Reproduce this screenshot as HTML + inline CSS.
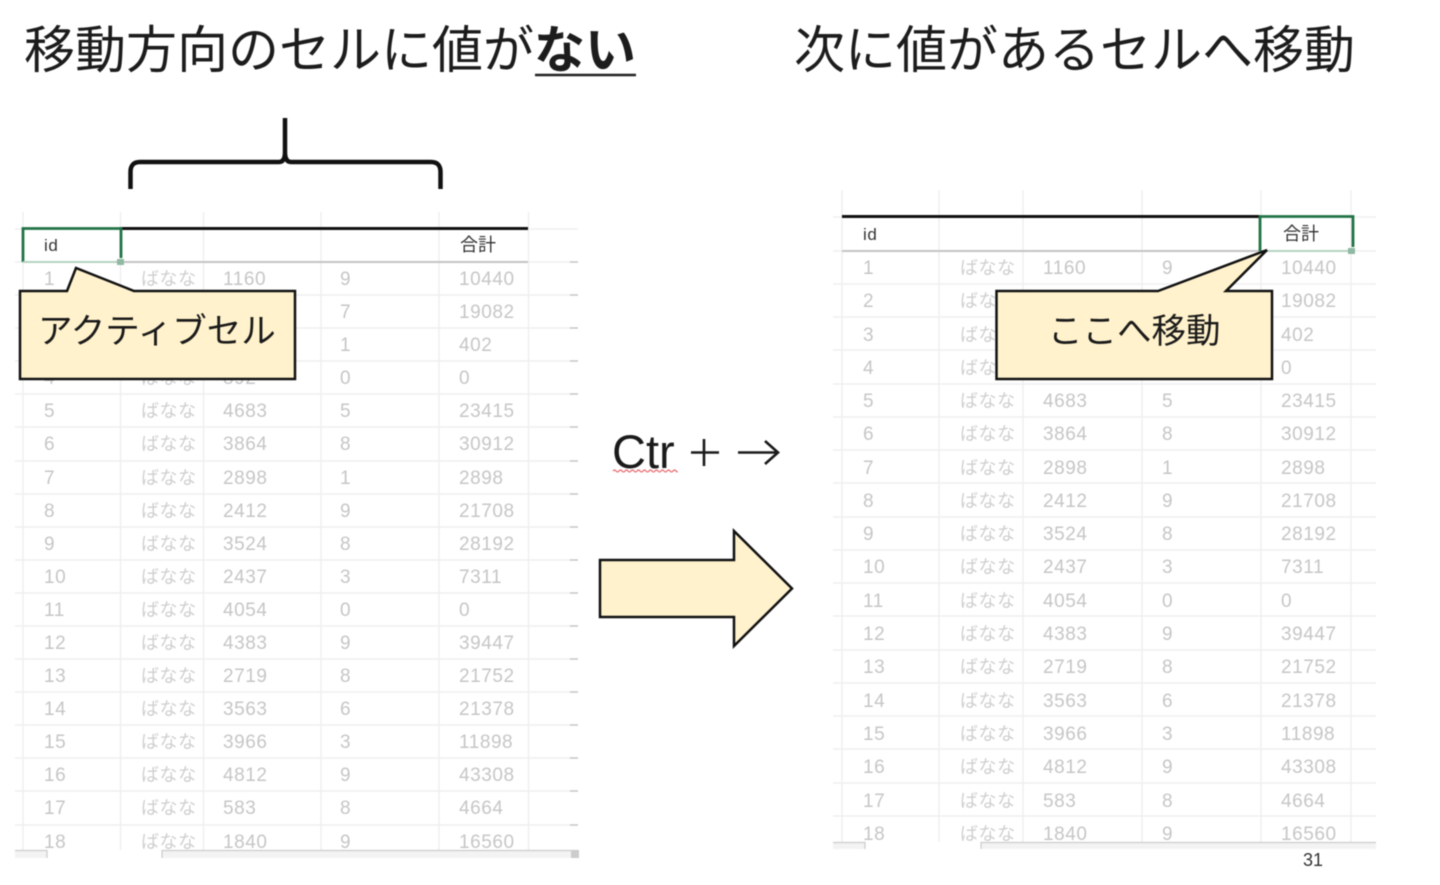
<!DOCTYPE html>
<html lang="ja"><head><meta charset="utf-8"><title>Ctrl + →</title>
<style>
html,body{margin:0;padding:0;background:#fff;width:1440px;height:885px;overflow:hidden}
svg{display:block;filter:blur(.5px)}
text{font-family:"Liberation Sans","Noto Sans CJK JP",sans-serif}
.d text{font-size:19px;fill:#c6c6c6;letter-spacing:.55px}
.d .k{font-size:18px;fill:#cfcfcf}
.t{font-size:51px;fill:#1c1c1c}
.c{font-size:34.500px;fill:#1a1a1a}
.g{stroke:#efefef;stroke-width:1.500;fill:none}
.tick{stroke:#c8c8c8;stroke-width:1.500;fill:none}
.s{fill:#fff2cc;stroke:#111;stroke-width:2.500;stroke-linejoin:miter}
</style></head><body>
<svg width="1440" height="885" viewBox="0 0 1440 885" xmlns="http://www.w3.org/2000/svg">
<text class="t" x="24" y="68">移動方向のセルに値が<tspan font-weight="bold">ない</tspan></text>
<line x1="535" y1="75" x2="636" y2="75" stroke="#222" stroke-width="2.500"/>
<text class="t" x="794" y="68">次に値があるセルへ移動</text>
<path d="M130.500 189 V172 Q130.500 162 140 162 H279 Q285 162 285 152 V118 V152 Q285 162 291 162 H431 Q440.500 162 440.500 172 V189" fill="none" stroke="#111" stroke-width="4.500"/>

<!-- left table -->
<path class="g" d="M23 212V850M120.500 212V850M203.500 212V850M321 212V850M439 212V850M528.500 212V850"/>
<path class="g" d="M15 229H578M15 262H578M15 295H578M15 328H578M15 361H578M15 394H578M15 427H578M15 461H578M15 494H578M15 527H578M15 560H578M15 593H578M15 626H578M15 659H578M15 692H578M15 725H578M15 758H578M15 791H578M15 825H578"/>
<path class="tick" d="M570 262H578M570 295H578M570 328H578M570 361H578M570 394H578M570 427H578M570 461H578M570 494H578M570 527H578M570 560H578M570 593H578M570 626H578M570 659H578M570 692H578M570 725H578M570 758H578M570 791H578M570 825H578"/>
<line x1="23" y1="262" x2="528" y2="262" stroke="#c4c4c4" stroke-width="2"/>
<line x1="120" y1="228.500" x2="528" y2="228.500" stroke="#111" stroke-width="3"/>
<g class="d">
<text x="44" y="251" style="font-size:17px;fill:#333">id</text>
<text x="460" y="251" style="font-size:18px;fill:#333;letter-spacing:0">合計</text>
<text y="285"><tspan x="44">1</tspan><tspan x="141" class="k">ばなな</tspan><tspan x="223">1160</tspan><tspan x="340">9</tspan><tspan x="459">10440</tspan></text>
<text y="318"><tspan x="44">2</tspan><tspan x="141" class="k">ばなな</tspan><tspan x="223">2726</tspan><tspan x="340">7</tspan><tspan x="459">19082</tspan></text>
<text y="351"><tspan x="44">3</tspan><tspan x="141" class="k">ばなな</tspan><tspan x="223">402</tspan><tspan x="340">1</tspan><tspan x="459">402</tspan></text>
<text y="384"><tspan x="44">4</tspan><tspan x="141" class="k">ばなな</tspan><tspan x="223">892</tspan><tspan x="340">0</tspan><tspan x="459">0</tspan></text>
<text y="417"><tspan x="44">5</tspan><tspan x="141" class="k">ばなな</tspan><tspan x="223">4683</tspan><tspan x="340">5</tspan><tspan x="459">23415</tspan></text>
<text y="450"><tspan x="44">6</tspan><tspan x="141" class="k">ばなな</tspan><tspan x="223">3864</tspan><tspan x="340">8</tspan><tspan x="459">30912</tspan></text>
<text y="484"><tspan x="44">7</tspan><tspan x="141" class="k">ばなな</tspan><tspan x="223">2898</tspan><tspan x="340">1</tspan><tspan x="459">2898</tspan></text>
<text y="517"><tspan x="44">8</tspan><tspan x="141" class="k">ばなな</tspan><tspan x="223">2412</tspan><tspan x="340">9</tspan><tspan x="459">21708</tspan></text>
<text y="550"><tspan x="44">9</tspan><tspan x="141" class="k">ばなな</tspan><tspan x="223">3524</tspan><tspan x="340">8</tspan><tspan x="459">28192</tspan></text>
<text y="583"><tspan x="44">10</tspan><tspan x="141" class="k">ばなな</tspan><tspan x="223">2437</tspan><tspan x="340">3</tspan><tspan x="459">7311</tspan></text>
<text y="616"><tspan x="44">11</tspan><tspan x="141" class="k">ばなな</tspan><tspan x="223">4054</tspan><tspan x="340">0</tspan><tspan x="459">0</tspan></text>
<text y="649"><tspan x="44">12</tspan><tspan x="141" class="k">ばなな</tspan><tspan x="223">4383</tspan><tspan x="340">9</tspan><tspan x="459">39447</tspan></text>
<text y="682"><tspan x="44">13</tspan><tspan x="141" class="k">ばなな</tspan><tspan x="223">2719</tspan><tspan x="340">8</tspan><tspan x="459">21752</tspan></text>
<text y="715"><tspan x="44">14</tspan><tspan x="141" class="k">ばなな</tspan><tspan x="223">3563</tspan><tspan x="340">6</tspan><tspan x="459">21378</tspan></text>
<text y="748"><tspan x="44">15</tspan><tspan x="141" class="k">ばなな</tspan><tspan x="223">3966</tspan><tspan x="340">3</tspan><tspan x="459">11898</tspan></text>
<text y="781"><tspan x="44">16</tspan><tspan x="141" class="k">ばなな</tspan><tspan x="223">4812</tspan><tspan x="340">9</tspan><tspan x="459">43308</tspan></text>
<text y="814"><tspan x="44">17</tspan><tspan x="141" class="k">ばなな</tspan><tspan x="223">583</tspan><tspan x="340">8</tspan><tspan x="459">4664</tspan></text>
<text y="848"><tspan x="44">18</tspan><tspan x="141" class="k">ばなな</tspan><tspan x="223">1840</tspan><tspan x="340">9</tspan><tspan x="459">16560</tspan></text>
</g>
<rect x="0" y="850" width="600" height="20" fill="#fff"/>
<rect x="15" y="850" width="32" height="8" fill="#f3f3f3"/>
<rect x="162" y="850" width="416" height="8" fill="#f3f3f3"/>
<path d="M15 850.500H47V858M162 858V850.500H578" fill="none" stroke="#ccc" stroke-width="1.200"/>
<rect x="571" y="850" width="8" height="8" fill="#ccc"/>
<path d="M23 262V228.500H121V258" fill="none" stroke="#217346" stroke-width="2.800"/>
<line x1="23" y1="262" x2="116" y2="262" stroke="#b5d3c2" stroke-width="2"/>
<rect x="117" y="259" width="7" height="6" fill="#8fb9a2"/>

<!-- right table -->
<path class="g" d="M842 190V842M939 190V842M1023 190V842M1142 190V842M1261 190V842M1351 190V842"/>
<path class="g" d="M833 217H1376M833 251H1376M833 284H1376M833 317H1376M833 350H1376M833 384H1376M833 417H1376M833 450H1376M833 483H1376M833 517H1376M833 550H1376M833 583H1376M833 616H1376M833 650H1376M833 683H1376M833 716H1376M833 749H1376M833 783H1376M833 816H1376"/>
<line x1="842" y1="251" x2="1262" y2="251" stroke="#c4c4c4" stroke-width="2"/>
<line x1="842" y1="216.500" x2="1260" y2="216.500" stroke="#111" stroke-width="3"/>
<g class="d">
<text x="863" y="240" style="font-size:17px;fill:#333">id</text>
<text x="1283" y="240" style="font-size:18px;fill:#333;letter-spacing:0">合計</text>
<text y="274"><tspan x="863">1</tspan><tspan x="960" class="k">ばなな</tspan><tspan x="1043">1160</tspan><tspan x="1162">9</tspan><tspan x="1281">10440</tspan></text>
<text y="307"><tspan x="863">2</tspan><tspan x="960" class="k">ばなな</tspan><tspan x="1043">2726</tspan><tspan x="1162">7</tspan><tspan x="1281">19082</tspan></text>
<text y="341"><tspan x="863">3</tspan><tspan x="960" class="k">ばなな</tspan><tspan x="1043">402</tspan><tspan x="1162">1</tspan><tspan x="1281">402</tspan></text>
<text y="374"><tspan x="863">4</tspan><tspan x="960" class="k">ばなな</tspan><tspan x="1043">892</tspan><tspan x="1162">0</tspan><tspan x="1281">0</tspan></text>
<text y="407"><tspan x="863">5</tspan><tspan x="960" class="k">ばなな</tspan><tspan x="1043">4683</tspan><tspan x="1162">5</tspan><tspan x="1281">23415</tspan></text>
<text y="440"><tspan x="863">6</tspan><tspan x="960" class="k">ばなな</tspan><tspan x="1043">3864</tspan><tspan x="1162">8</tspan><tspan x="1281">30912</tspan></text>
<text y="474"><tspan x="863">7</tspan><tspan x="960" class="k">ばなな</tspan><tspan x="1043">2898</tspan><tspan x="1162">1</tspan><tspan x="1281">2898</tspan></text>
<text y="507"><tspan x="863">8</tspan><tspan x="960" class="k">ばなな</tspan><tspan x="1043">2412</tspan><tspan x="1162">9</tspan><tspan x="1281">21708</tspan></text>
<text y="540"><tspan x="863">9</tspan><tspan x="960" class="k">ばなな</tspan><tspan x="1043">3524</tspan><tspan x="1162">8</tspan><tspan x="1281">28192</tspan></text>
<text y="573"><tspan x="863">10</tspan><tspan x="960" class="k">ばなな</tspan><tspan x="1043">2437</tspan><tspan x="1162">3</tspan><tspan x="1281">7311</tspan></text>
<text y="607"><tspan x="863">11</tspan><tspan x="960" class="k">ばなな</tspan><tspan x="1043">4054</tspan><tspan x="1162">0</tspan><tspan x="1281">0</tspan></text>
<text y="640"><tspan x="863">12</tspan><tspan x="960" class="k">ばなな</tspan><tspan x="1043">4383</tspan><tspan x="1162">9</tspan><tspan x="1281">39447</tspan></text>
<text y="673"><tspan x="863">13</tspan><tspan x="960" class="k">ばなな</tspan><tspan x="1043">2719</tspan><tspan x="1162">8</tspan><tspan x="1281">21752</tspan></text>
<text y="707"><tspan x="863">14</tspan><tspan x="960" class="k">ばなな</tspan><tspan x="1043">3563</tspan><tspan x="1162">6</tspan><tspan x="1281">21378</tspan></text>
<text y="740"><tspan x="863">15</tspan><tspan x="960" class="k">ばなな</tspan><tspan x="1043">3966</tspan><tspan x="1162">3</tspan><tspan x="1281">11898</tspan></text>
<text y="773"><tspan x="863">16</tspan><tspan x="960" class="k">ばなな</tspan><tspan x="1043">4812</tspan><tspan x="1162">9</tspan><tspan x="1281">43308</tspan></text>
<text y="807"><tspan x="863">17</tspan><tspan x="960" class="k">ばなな</tspan><tspan x="1043">583</tspan><tspan x="1162">8</tspan><tspan x="1281">4664</tspan></text>
<text y="840"><tspan x="863">18</tspan><tspan x="960" class="k">ばなな</tspan><tspan x="1043">1840</tspan><tspan x="1162">9</tspan><tspan x="1281">16560</tspan></text>
</g>
<rect x="820" y="842" width="600" height="14" fill="#fff"/>
<rect x="833" y="842" width="32" height="7" fill="#f3f3f3"/>
<rect x="981" y="842" width="395" height="7" fill="#f3f3f3"/>
<path d="M833 842.500H865V849M981 849V842.500H1376" fill="none" stroke="#ccc" stroke-width="1.200"/>
<path d="M1260 251V216.500H1353V247" fill="none" stroke="#217346" stroke-width="2.800"/>
<line x1="1262" y1="251" x2="1348" y2="251" stroke="#b5d3c2" stroke-width="2"/>
<rect x="1348" y="248" width="7" height="6" fill="#8fb9a2"/>
<text x="1303" y="866" style="font-size:18px;fill:#333">31</text>

<!-- callouts -->
<path class="s" d="M20 291H67L76 268L134 291H295V379H20Z"/>
<text class="c" x="38" y="343">アクティブセル</text>
<path class="s" d="M996.500 291H1158L1267 250L1226 291H1272V379H996.500Z"/>
<text class="c" x="1048" y="343">ここへ移動</text>

<!-- middle -->
<text x="612" y="468" style="font-size:47px;fill:#1a1a1a">Ctr</text>
<path d="M613 471q1.500 -2 3 0t3 0t3 0t3 0t3 0t3 0t3 0t3 0t3 0t3 0t3 0t3 0t3 0t3 0t3 0t3 0t3 0t3 0t3 0t3 0t3 0t1 0" fill="none" stroke="#e8686c" stroke-width="1.200"/>
<path d="M704 439V466M691 452.500H719M738 452.500H777M765 441L778 452.500L765 464" fill="none" stroke="#1a1a1a" stroke-width="2.600"/>
<path class="s" d="M600 560H734V531L792 588.500L734 646V617H600Z"/>
</svg>
</body></html>
